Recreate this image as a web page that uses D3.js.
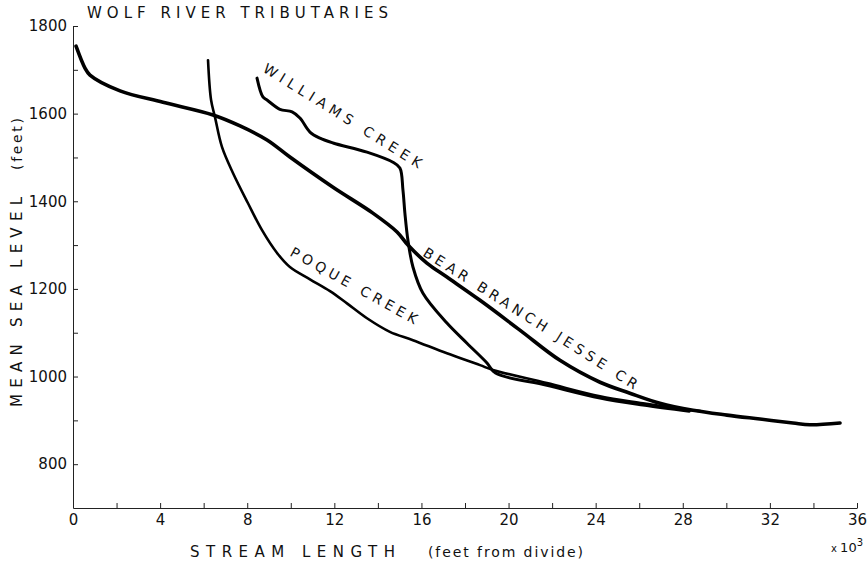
<!DOCTYPE html>
<html>
  <head>
    <meta charset="utf-8" />
    <title>Wolf River Tributaries</title>
    <script src="https://d3js.org/d3.v7.min.js"></script>
    <style>
      body { margin: 0; background: #fff; }
      text { font-family: "DejaVu Sans", sans-serif; fill: #111; }
    </style>
  </head>
  <body>
    <svg width="868" height="564"></svg>

    <script>
      // Data: distance from divide (x 1000 ft) and mean sea level elevation (ft)
      var bearJesseDist = [0.14, 0.55, 0.78, 2.16, 4.13, 6.43, 7.67, 8.91, 9.96, 11.94, 13.77, 14.88, 15.38, 16.25, 17.17, 18.69, 20.52, 22.36, 24.2, 25.57, 26.95, 28.47, 30.03, 31.54, 33.06, 33.84, 35.22];
      var bearJesseElev = [1754, 1704, 1688, 1652, 1626, 1597, 1572, 1540, 1501, 1432, 1373, 1330, 1300, 1259, 1227, 1174, 1106, 1037, 987, 962, 939, 923, 912, 903, 894, 890, 894];

      var poqueDist = [6.2, 6.34, 6.52, 6.84, 7.35, 8.03, 8.68, 9.37, 9.96, 10.88, 11.8, 12.58, 13.5, 14.55, 15.61, 17.17, 18.69, 19.28, 21.76, 24.2, 26.17, 27.87, 28.8];
      var poqueElev = [1722, 1631, 1592, 1524, 1464, 1396, 1334, 1282, 1250, 1222, 1195, 1167, 1133, 1102, 1083, 1053, 1026, 1015, 985, 955, 939, 926, 921];

      var williamsDist = [8.45, 8.72, 8.91, 9.5, 10.06, 10.42, 10.88, 11.34, 11.94, 13.5, 14.69, 15.01, 15.15, 15.24, 15.38, 15.61, 16.07, 17.17, 18.09, 19.01, 19.4, 21.76, 24.2, 26.17, 28.3];
      var williamsElev = [1681, 1638, 1631, 1610, 1604, 1590, 1558, 1544, 1533, 1512, 1489, 1476, 1426, 1373, 1311, 1250, 1190, 1122, 1076, 1031, 1008, 980, 951, 935, 921];

      var xTicks = [0, 2, 4, 6, 8, 10, 12, 14, 16, 18, 20, 22, 24, 26, 28, 30, 32, 34, 36];
      var xTickLabels = [0, 4, 8, 12, 16, 20, 24, 28, 32, 36];
      var yTicks = [800, 900, 1000, 1100, 1200, 1300, 1400, 1500, 1600, 1700, 1800];
      var yTickLabels = [800, 1000, 1200, 1400, 1600, 1800];

      var svg = d3.select("svg");

      // scales
      var x = d3.scaleLinear().domain([0, 36]).range([73, 857]);
      var y = d3.scaleLinear().domain([700, 1800]).range([508, 26]);

      // axes
      svg.append("g")
        .attr("transform", "translate(0," + y(700) + ")")
        .call(d3.axisBottom(x).tickValues(xTicks).tickSizeInner(-5).tickSizeOuter(0).tickPadding(6)
          .tickFormat(function (d) { return xTickLabels.indexOf(d) >= 0 ? d : ""; }))
        .call(function (g) {
          g.select(".domain").attr("stroke", "#222");
          g.selectAll("line").attr("stroke", "#222");
          g.selectAll("text").style("font-size", "15px").attr("fill", "#111");
        });

      svg.append("g")
        .attr("transform", "translate(" + x(0) + ",0)")
        .call(d3.axisLeft(y).tickValues(yTicks).tickSizeInner(-5).tickSizeOuter(0).tickPadding(6)
          .tickFormat(function (d) { return yTickLabels.indexOf(d) >= 0 ? d : ""; }))
        .call(function (g) {
          g.select(".domain").attr("stroke", "#222");
          g.selectAll("line").attr("stroke", "#222");
          g.selectAll("text").style("font-size", "15px").attr("fill", "#111");
        });

      // profiles
      var line = d3.line()
        .x(function (d) { return x(d[0]); })
        .y(function (d) { return y(d[1]); })
        .curve(d3.curveCatmullRom.alpha(0.5));

      function profile(dist, elev, w) {
        svg.append("path")
          .datum(d3.zip(dist, elev))
          .attr("d", line)
          .attr("fill", "none")
          .attr("stroke", "#000")
          .attr("stroke-width", w)
          .attr("stroke-linecap", "round")
          .attr("stroke-linejoin", "round");
      }
      profile(poqueDist, poqueElev, 2.6);
      profile(williamsDist, williamsElev, 3);
      profile(bearJesseDist, bearJesseElev, 3.6);

      // stream labels
      var labels = [
        { text: "WILLIAMS CREEK", d: 8.68, e: 1697, angle: 32, len: 184 },
        { text: "POQUE CREEK", d: 9.92, e: 1277, angle: 29, len: 143 },
        { text: "BEAR BRANCH JESSE CR", d: 16.02, e: 1277, angle: 32.4, len: 251 }
      ];
      svg.selectAll(".lbl")
        .data(labels)
        .enter()
        .append("text")
        .attr("class", "lbl")
        .attr("transform", function (d) {
          return "translate(" + x(d.d) + "," + y(d.e) + ") rotate(" + d.angle + ")";
        })
        .attr("textLength", function (d) { return d.len; })
        .attr("lengthAdjust", "spacing")
        .style("font-size", "14px")
        .text(function (d) { return d.text; });

      // titles
      svg.append("text")
        .attr("x", 87).attr("y", 18)
        .attr("textLength", 301).attr("lengthAdjust", "spacing")
        .style("font-size", "15px")
        .text("WOLF RIVER TRIBUTARIES");

      svg.append("text")
        .attr("x", 190).attr("y", 557)
        .attr("textLength", 205).attr("lengthAdjust", "spacing")
        .style("font-size", "15px")
        .text("STREAM LENGTH");

      svg.append("text")
        .attr("x", 428).attr("y", 557)
        .attr("textLength", 155).attr("lengthAdjust", "spacing")
        .style("font-size", "14px")
        .text("(feet from divide)");

      svg.append("text")
        .attr("transform", "translate(22,407) rotate(-90)")
        .attr("textLength", 210).attr("lengthAdjust", "spacing")
        .style("font-size", "15px")
        .text("MEAN SEA LEVEL");

      svg.append("text")
        .attr("transform", "translate(22,170) rotate(-90)")
        .attr("textLength", 52).attr("lengthAdjust", "spacing")
        .style("font-size", "14px")
        .text("(feet)");

      var mult = svg.append("text")
        .attr("x", 831).attr("y", 552)
        .style("font-size", "13px");
      mult.append("tspan").style("font-size", "10px").text("x ");
      mult.append("tspan").text("10");
      mult.append("tspan").attr("dy", -6).style("font-size", "10px").text("3");
    </script>
  </body>
</html>
